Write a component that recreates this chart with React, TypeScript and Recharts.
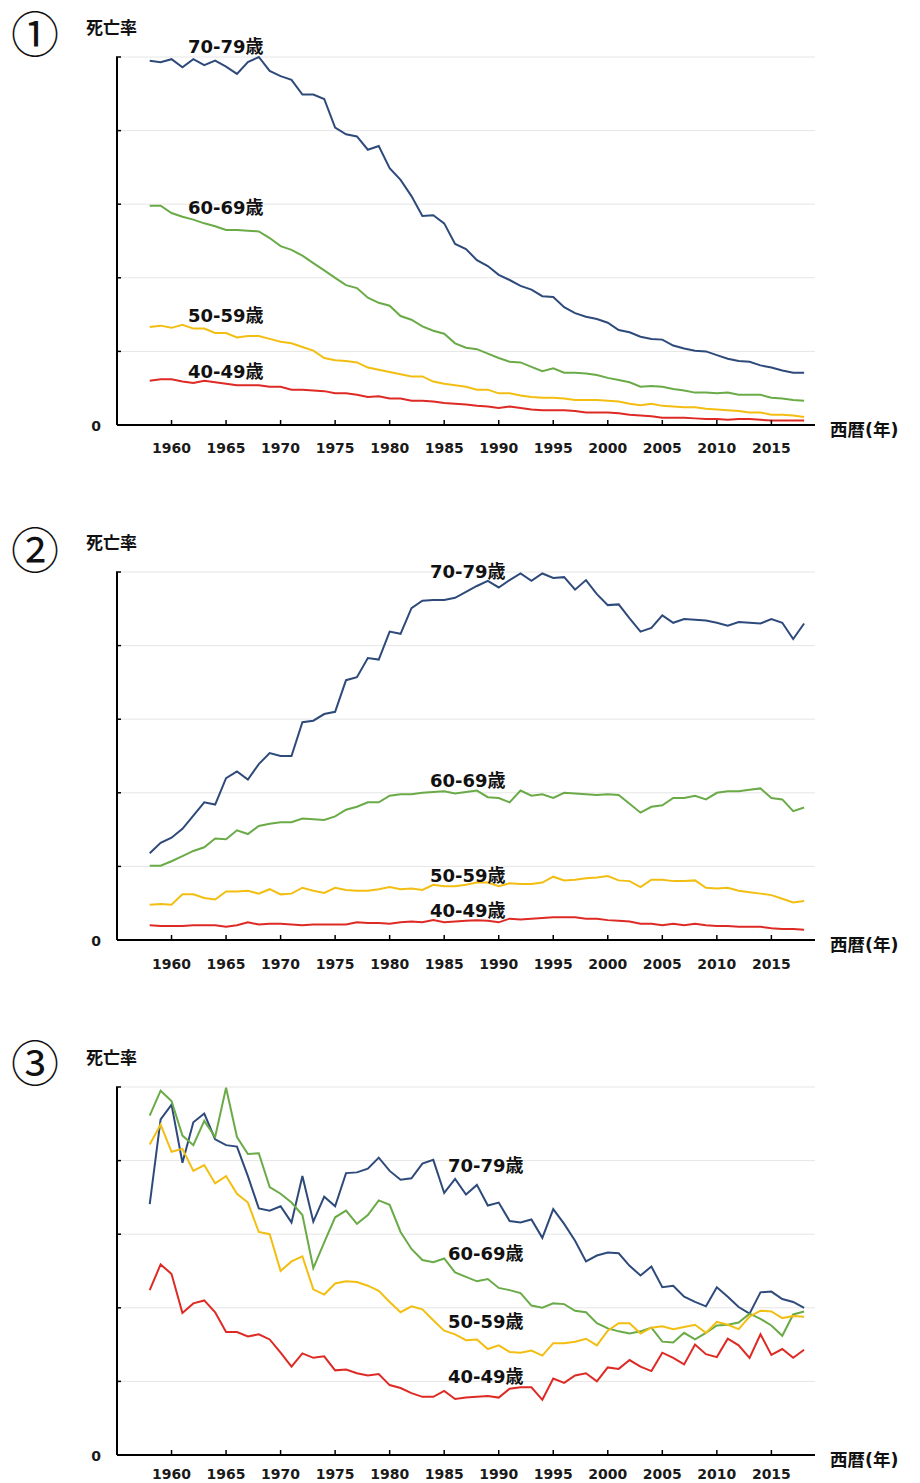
import React from 'react';
import { LineChart, Line, XAxis, YAxis, CartesianGrid } from 'recharts';

const YEARS = [
  1958, 1959, 1960, 1961, 1962, 1963, 1964, 1965, 1966, 1967,
  1968, 1969, 1970, 1971, 1972, 1973, 1974, 1975, 1976, 1977,
  1978, 1979, 1980, 1981, 1982, 1983, 1984, 1985, 1986, 1987,
  1988, 1989, 1990, 1991, 1992, 1993, 1994, 1995, 1996, 1997,
  1998, 1999, 2000, 2001, 2002, 2003, 2004, 2005, 2006, 2007,
  2008, 2009, 2010, 2011, 2012, 2013, 2014, 2015, 2016, 2017,
  2018,
];

// Panel 1
const P1_70S = [
  4.95, 4.93, 4.97, 4.86, 4.97, 4.89, 4.95, 4.87, 4.77, 4.93,
  5.0, 4.81, 4.74, 4.69, 4.49, 4.49, 4.43, 4.04, 3.95, 3.92,
  3.74, 3.79, 3.49, 3.33, 3.11, 2.84, 2.85, 2.74, 2.46, 2.39,
  2.24, 2.16, 2.04, 1.97, 1.89, 1.84, 1.75, 1.74, 1.6, 1.52,
  1.47, 1.44, 1.39, 1.29, 1.26, 1.2, 1.17, 1.16, 1.08, 1.04,
  1.01, 1.0, 0.95, 0.9, 0.87, 0.86, 0.81, 0.78, 0.74, 0.71,
  0.71,
];
const P1_60S = [
  2.98, 2.98, 2.88, 2.83, 2.79, 2.74, 2.7, 2.65, 2.65, 2.64,
  2.63, 2.54, 2.43, 2.38, 2.3, 2.2, 2.1, 2.0, 1.9, 1.86,
  1.73, 1.66, 1.62, 1.48, 1.43, 1.34, 1.28, 1.24, 1.11, 1.05,
  1.03, 0.97, 0.91, 0.86, 0.85, 0.79, 0.73, 0.77, 0.71, 0.71,
  0.7, 0.68, 0.64, 0.61, 0.58, 0.52, 0.53, 0.52, 0.49, 0.47,
  0.44, 0.44, 0.43, 0.44, 0.41, 0.41, 0.41, 0.37, 0.36, 0.34,
  0.33,
];
const P1_50S = [
  1.33, 1.35, 1.32, 1.36, 1.31, 1.31, 1.25, 1.25, 1.19, 1.21,
  1.21, 1.17, 1.13, 1.11, 1.06, 1.01, 0.91, 0.88, 0.87, 0.85,
  0.78, 0.75, 0.72, 0.69, 0.66, 0.66, 0.59, 0.56, 0.54, 0.52,
  0.48, 0.48, 0.43, 0.43, 0.4, 0.38, 0.37, 0.37, 0.36, 0.34,
  0.34, 0.34, 0.33, 0.32, 0.29, 0.27, 0.29, 0.26, 0.25, 0.24,
  0.24, 0.22, 0.21, 0.2, 0.19, 0.17, 0.17, 0.14, 0.14, 0.13,
  0.11,
];
const P1_40S = [
  0.6, 0.62, 0.62, 0.59, 0.57, 0.6, 0.58, 0.56, 0.54, 0.54,
  0.54, 0.52, 0.52, 0.48, 0.48, 0.47, 0.46, 0.43, 0.43, 0.41,
  0.38, 0.39, 0.36, 0.36, 0.33, 0.33, 0.32, 0.3, 0.29, 0.28,
  0.26, 0.25, 0.23, 0.25, 0.23, 0.21, 0.2, 0.2, 0.2, 0.19,
  0.17, 0.17, 0.17, 0.16, 0.14, 0.13, 0.12, 0.1, 0.1, 0.1,
  0.09, 0.08, 0.08, 0.07, 0.08, 0.08, 0.07, 0.06, 0.06, 0.06,
  0.06,
];

// Panel 2
const P2_70S = [
  1.18, 1.32, 1.39, 1.51, 1.69, 1.87, 1.84, 2.2, 2.29, 2.18,
  2.39, 2.54, 2.5, 2.5, 2.96, 2.98, 3.07, 3.1, 3.53, 3.57,
  3.83, 3.81, 4.19, 4.16, 4.51, 4.61, 4.62, 4.62, 4.65, 4.73,
  4.81, 4.88, 4.79, 4.89, 4.98, 4.88, 4.98, 4.92, 4.93, 4.76,
  4.89, 4.7, 4.55, 4.56, 4.37, 4.19, 4.24, 4.41, 4.31, 4.36,
  4.35, 4.34, 4.31, 4.27, 4.32, 4.31, 4.3, 4.36, 4.31, 4.09,
  4.3,
];
const P2_60S = [
  1.01, 1.01, 1.07, 1.14, 1.21, 1.26, 1.38, 1.37, 1.49, 1.44,
  1.55, 1.58, 1.6, 1.6, 1.65, 1.64, 1.63, 1.68, 1.77, 1.81,
  1.87, 1.87, 1.96, 1.98, 1.98, 2.0, 2.01, 2.02, 1.99, 2.01,
  2.03, 1.94, 1.93, 1.87, 2.03, 1.96, 1.98, 1.93, 2.0, 1.99,
  1.98, 1.97, 1.98, 1.97, 1.85, 1.73, 1.81, 1.83, 1.93, 1.93,
  1.96, 1.91, 2.0, 2.02, 2.02, 2.04, 2.06, 1.93, 1.91, 1.75,
  1.8,
];
const P2_50S = [
  0.48, 0.49, 0.48, 0.62, 0.62, 0.57, 0.55, 0.66, 0.66, 0.67,
  0.63, 0.69, 0.62, 0.63, 0.71, 0.67, 0.64, 0.71, 0.68, 0.67,
  0.67, 0.69, 0.72, 0.69, 0.7, 0.68, 0.75, 0.73, 0.73, 0.75,
  0.78, 0.78, 0.73, 0.77, 0.76, 0.76, 0.78, 0.86, 0.81, 0.82,
  0.84, 0.85, 0.87, 0.81, 0.8, 0.72, 0.82, 0.82, 0.8, 0.8,
  0.81, 0.71, 0.7, 0.71, 0.67, 0.65, 0.63, 0.61, 0.56, 0.51,
  0.53,
];
const P2_40S = [
  0.2, 0.19, 0.19, 0.19, 0.2, 0.2, 0.2, 0.18, 0.2, 0.24,
  0.21, 0.22, 0.22, 0.21, 0.2, 0.21, 0.21, 0.21, 0.21, 0.24,
  0.23, 0.23, 0.22, 0.24, 0.25, 0.24, 0.27, 0.24, 0.25, 0.26,
  0.27, 0.26, 0.24, 0.29, 0.28, 0.29, 0.3, 0.31, 0.31, 0.31,
  0.29, 0.29, 0.27, 0.26, 0.25, 0.22, 0.22, 0.2, 0.22, 0.2,
  0.22, 0.2, 0.19, 0.19, 0.18, 0.18, 0.18, 0.16, 0.15, 0.15,
  0.14,
];

// Panel 3
const P3_70S = [
  3.41, 4.56, 4.76, 3.97, 4.52, 4.64, 4.29, 4.21, 4.19, 3.79,
  3.35, 3.32, 3.38, 3.16, 3.79, 3.17, 3.51, 3.38, 3.83, 3.84,
  3.89, 4.04, 3.86, 3.74, 3.76, 3.96, 4.01, 3.56, 3.75, 3.54,
  3.67, 3.39, 3.43, 3.18, 3.16, 3.2, 2.95, 3.34, 3.14, 2.91,
  2.63, 2.71, 2.75, 2.74, 2.57, 2.44, 2.56, 2.28, 2.3, 2.15,
  2.08, 2.02, 2.28, 2.15, 2.01, 1.92, 2.21, 2.22, 2.12, 2.08,
  2.0,
];
const P3_60S = [
  4.61, 4.95, 4.81, 4.34, 4.21, 4.54, 4.32, 4.99, 4.32, 4.09,
  4.1, 3.64, 3.55, 3.43, 3.26, 2.54, 2.89, 3.23, 3.32, 3.14,
  3.26, 3.46, 3.4, 3.03, 2.8, 2.65, 2.62, 2.67, 2.48, 2.42,
  2.36, 2.39, 2.27, 2.24, 2.2, 2.03, 2.0, 2.06, 2.05, 1.96,
  1.94, 1.79, 1.72, 1.68, 1.65, 1.68, 1.73, 1.54, 1.53, 1.66,
  1.57, 1.66, 1.76, 1.77, 1.8, 1.92, 1.85, 1.76, 1.62, 1.91,
  1.95,
];
const P3_50S = [
  4.22, 4.49, 4.12, 4.16, 3.86, 3.94, 3.69, 3.79, 3.55, 3.43,
  3.03, 3.0, 2.5, 2.63, 2.7, 2.25, 2.18, 2.33, 2.36, 2.35,
  2.3, 2.23, 2.08, 1.94, 2.02, 1.98, 1.83, 1.69, 1.64, 1.56,
  1.57, 1.44, 1.49, 1.4, 1.39, 1.42, 1.35, 1.52, 1.52, 1.54,
  1.58, 1.49, 1.69, 1.79, 1.79, 1.65, 1.73, 1.75, 1.71, 1.74,
  1.77, 1.66, 1.81, 1.77, 1.71, 1.88, 1.96, 1.95, 1.86, 1.89,
  1.88,
];
const P3_40S = [
  2.24, 2.59, 2.46, 1.93, 2.06, 2.1, 1.94, 1.67, 1.67, 1.61,
  1.64, 1.57, 1.39, 1.2, 1.38, 1.32, 1.34, 1.15, 1.16, 1.11,
  1.08, 1.1, 0.95, 0.91, 0.84, 0.79, 0.79, 0.87, 0.76, 0.78,
  0.79, 0.8, 0.78, 0.9, 0.92, 0.92, 0.75, 1.04, 0.98, 1.08,
  1.11, 1.0, 1.19, 1.17, 1.29, 1.2, 1.14, 1.39, 1.32, 1.23,
  1.5, 1.37, 1.33, 1.58, 1.49, 1.32, 1.64, 1.36, 1.44, 1.32,
  1.43,
];

const X_TICKS = [1960, 1965, 1970, 1975, 1980, 1985, 1990, 1995, 2000, 2005, 2010, 2015];
const Y_TICKS = [0, 1, 2, 3, 4, 5];
const AGE_LABELS = ['70-79歳', '60-69歳', '50-59歳', '40-49歳'];
const PANEL_NUMBERS = ['①', '②', '③'];
const Y_TITLE = '死亡率';
const X_TITLE = '西暦(年)';
const ZERO_LABEL = '0';

const COLORS = ['#2e4a7b', '#6aab48', '#f3be12', '#de2a25'];
const SERIES_KEYS = ['s70', 's60', 's50', 's40'];

const PANELS = [
  { values: [P1_70S, P1_60S, P1_50S, P1_40S], labelX: 180, labelY: [45, 206, 314, 370], tickDy: 28, numY: 44 },
  { values: [P2_70S, P2_60S, P2_50S, P2_40S], labelX: 422, labelY: [55, 264, 359, 394], tickDy: 29, numY: 45 },
  { values: [P3_70S, P3_60S, P3_50S, P3_40S], labelX: 440, labelY: [134, 222, 290, 345], tickDy: 24, numY: 43 },
];

const W = 904;
const H = 515;
const MARGIN = { top: 49, right: 97, bottom: 68, left: 79 };
const LATIN = "'DejaVu Sans', 'Noto Sans CJK JP', sans-serif";
const CJK = "'Noto Sans CJK JP', sans-serif";

const XTick = (props: any) => {
  const { x, y, payload, dyLabel } = props;
  return (
    <g>
      <line x1={x} x2={x} y1={y} y2={y - 5} stroke="#000" strokeWidth={1.5} />
      <text x={x} y={y + dyLabel} textAnchor="middle" fontFamily={LATIN} fontWeight="bold" fontSize={14} fill="#1a1a1a">
        {payload.value}
      </text>
    </g>
  );
};

const YTick = (props: any) => {
  const { x, y, payload } = props;
  if (payload.value === 0) {
    return (
      <text x={x - 21} y={y + 5.5} textAnchor="middle" fontFamily={LATIN} fontWeight="bold" fontSize={14} fill="#1a1a1a">
        {ZERO_LABEL}
      </text>
    );
  }
  return <line x1={x - 1} x2={x + 4} y1={y} y2={y} stroke="#000" strokeWidth={1.5} />;
};

function Panel({ index }: { index: number }) {
  const panel = PANELS[index];
  const data = YEARS.map((year, i) => {
    const row: any = { year };
    SERIES_KEYS.forEach((k, s) => {
      row[k] = panel.values[s][i];
    });
    return row;
  });
  return (
    <div style={{ position: 'relative', width: W, height: H }}>
      <LineChart width={W} height={H} data={data} margin={MARGIN}>
        <CartesianGrid vertical={false} stroke="#e6e6e6" strokeWidth={1} />
        <XAxis
          dataKey="year"
          type="number"
          domain={[1955, 2019]}
          ticks={X_TICKS}
          interval={0}
          height={30}
          tickSize={0}
          tickMargin={0}
          tick={<XTick dyLabel={panel.tickDy} />}
          axisLine={{ stroke: '#000', strokeWidth: 2 }}
          tickLine={false}
        />
        <YAxis
          type="number"
          domain={[0, 5]}
          ticks={Y_TICKS}
          interval={0}
          width={30}
          tickSize={0}
          tickMargin={0}
          tick={<YTick />}
          axisLine={{ stroke: '#000', strokeWidth: 2 }}
          tickLine={false}
        />
        {SERIES_KEYS.map((k, s) => (
          <Line
            key={k}
            dataKey={k}
            type="linear"
            stroke={COLORS[s]}
            strokeWidth={2}
            dot={false}
            isAnimationActive={false}
          />
        ))}
      </LineChart>
      <svg
        width={W}
        height={H}
        style={{ position: 'absolute', left: 0, top: 0, pointerEvents: 'none', overflow: 'visible' }}
      >
        <text x={27} y={panel.numY} textAnchor="middle" fontFamily={CJK} fontSize={48} fill="#111">
          {PANEL_NUMBERS[index]}
        </text>
        <text x={78} y={26} fontFamily={CJK} fontWeight="bold" fontSize={17} fill="#111">
          {Y_TITLE}
        </text>
        <text x={822} y={428} fontFamily={LATIN} fontWeight="bold" fontSize={17.5} fill="#111">
          {X_TITLE}
        </text>
        {AGE_LABELS.map((lab, s) => (
          <text
            key={lab}
            x={panel.labelX}
            y={panel.labelY[s]}
            fontFamily={LATIN}
            fontWeight="bold"
            fontSize={18}
            fill="#111"
          >
            {lab}
          </text>
        ))}
      </svg>
    </div>
  );
}

export default function App() {
  return (
    <div style={{ width: W }}>
      <style>{'body{overflow:hidden;}'}</style>
      <Panel index={0} />
      <Panel index={1} />
      <Panel index={2} />
    </div>
  );
}
